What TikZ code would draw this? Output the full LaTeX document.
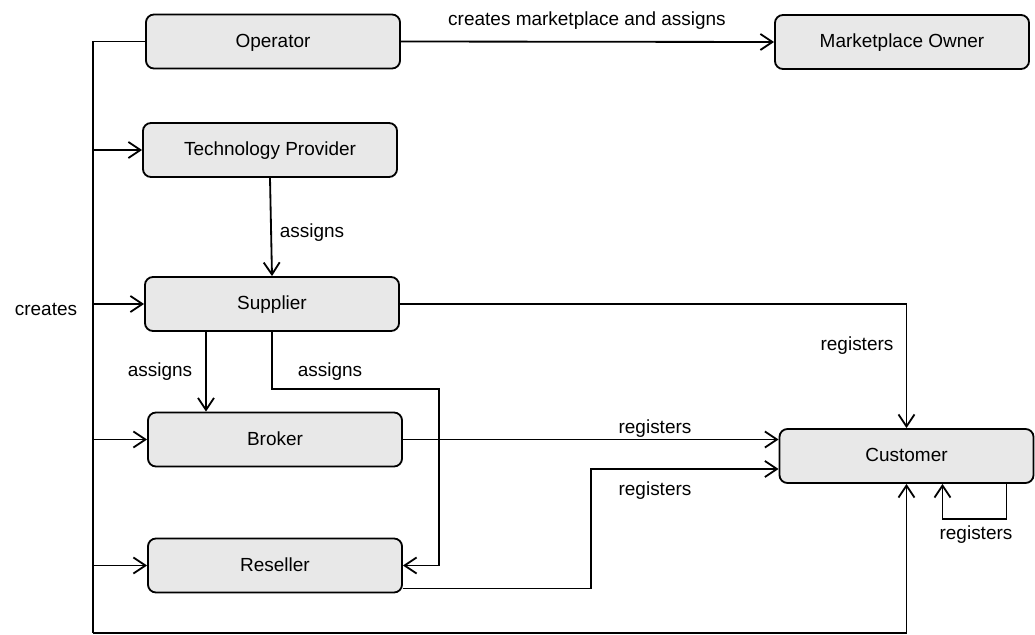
\documentclass[tikz,border=0pt]{standalone}
\usepackage{fontspec}
\setmainfont{Liberation Sans}
\usepackage{tikz}
\usetikzlibrary{arrows.meta,calc}
\definecolor{boxgray}{RGB}{232,232,232}
\tikzstyle{block} = [rectangle, rounded corners=0.2cm, draw, line width=1.3pt, fill=boxgray, minimum width=6.35cm, minimum height=1.35cm, inner sep=0pt, text height=1.05em, text depth=0.21em]
\tikzstyle{arrow} = [draw, line width=1.3pt, -{Straight Barb[length=0.3cm, width=0.4cm, line width=1.3pt]}]
\tikzstyle{line} = [draw, line width=1.3pt]
\tikzstyle{lbl} = [inner sep=0pt, yshift=-0.05cm]

\begin{document}
\begin{tikzpicture}[x=0.025cm, y=-0.025cm, every node/.style={font=\fontsize{13.5}{16}\selectfont}]
      \useasboundingbox (0, 0) rectangle (1035, 635);
      \node [block] at (273,  41.5) (op) {Operator};
      \node [block] at (902,  42)   (mo) {Marketplace Owner};
      \node [block] at (270, 150)   (tech) {Technology Provider};
      \node [block] at (272, 304)   (sup) {Supplier};
      \node [block] at (275, 439.5) (brk) {Broker};
      \node [block] at (275, 565.5) (res) {Reseller};
      \node [block] at (906.5, 456) (cust) {Customer};
      \coordinate (lt) at (93, 41.5);
      \coordinate (lb) at (93, 633);
      \coordinate (sp1) at ($(sup.south) + (-66, 0)$);
      \coordinate (sp2) at (439, 389);
      \coordinate (rs1) at ($(res.east) + (0, 23)$);
      \coordinate (rs2) at (591, 469);
      \coordinate (cs1) at ($(cust.south) + (100, 0)$);
      \coordinate (cs2) at ($(cust.south) + (36, 0)$);
      % left trunk
      \path [line] (op.west) -- (lt) -- (lb);
      \path [arrow] (lb) -| (cust.south);
      \path [arrow] (lt |- tech.west) -- (tech.west);
      \path [arrow] (lt |- sup.west) -- (sup.west);
      \path [arrow] (lt |- brk.west) -- (brk.west);
      \path [arrow] (lt |- res.west) -- (res.west);
      \node [lbl] at (46, 307) (ncreates) {creates};
      \path [arrow] (op.east) -- (mo.west);
      \node [lbl] at (587, 19) (nowner) {creates marketplace and assigns};
      \path [arrow] (tech.south) -- (sup.north);
      \node [lbl] at (312, 231) (ntech) {assigns};
      \path [arrow] (sp1) -- (sp1 |- brk.north);
      \node [lbl] at (160, 370) (nbrk) {assigns};
      \path [arrow] (sup.south) |- (sp2) |- (res.east);
      \node [lbl] at (330, 370) (nres) {assigns};
      \path [arrow] (sup.east) -| (cust.north);
      \node [lbl] at (857, 344) (nsup) {registers};
      \path [arrow] (brk.east) -- (brk.east -| cust.west);
      \node [lbl] at (655, 427) (nbc) {registers};
      \path [arrow] (rs1) -| (rs2) -- (rs2 -| cust.west);
      \node [lbl] at (655, 489) (nrc) {registers};
      \path [arrow] (cs1) -- ++(0, 35) -| (cs2);
      \node [lbl] at (976, 533) (nself) {registers};
    \end{tikzpicture}
\end{document}
